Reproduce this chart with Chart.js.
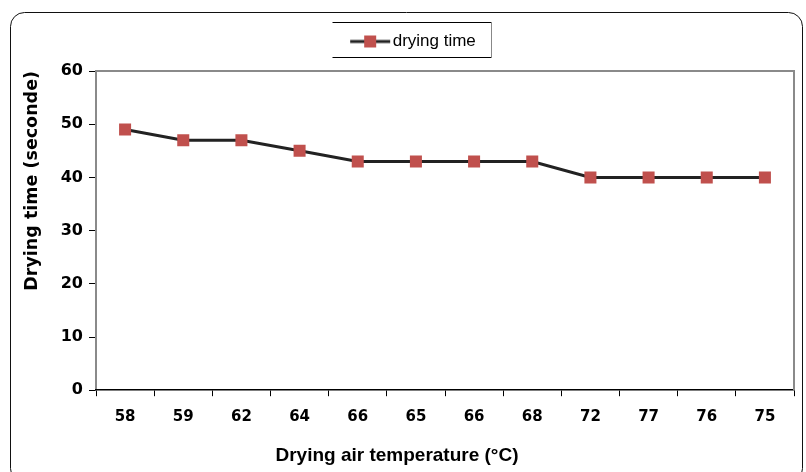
<!DOCTYPE html>
<html>
<head>
<meta charset="utf-8">
<script src="https://cdn.jsdelivr.net/npm/chart.js@4.4.1/dist/chart.umd.min.js"></script>
<style>
  html, body { margin: 0; padding: 0; background: #fff; }
  #wrap { width: 806px; height: 472px; position: relative; }
</style>
</head>
<body>
<div id="wrap"><canvas id="dryingChart"></canvas></div>
<script>
var temperatures = ['58', '59', '62', '64', '66', '65', '66', '68', '72', '77', '76', '75'];
var dryingTime = [49, 47, 47, 45, 43, 43, 43, 43, 40, 40, 40, 40];
var yTicks = [0, 10, 20, 30, 40, 50, 60];

var lineColor = '#222222';
var markerColor = '#C0504D';

// legend symbol: line with a square marker on it
var legendIcon = document.createElement('canvas');
legendIcon.width = 80;
legendIcon.height = 14;
(function () {
    var c = legendIcon.getContext('2d');
    c.strokeStyle = lineColor;
    c.lineWidth = 3;
    c.beginPath();
    c.moveTo(39, 7);
    c.lineTo(79, 7);
    c.stroke();
    c.fillStyle = markerColor;
    c.fillRect(53, 1, 12, 12);
})();

// extra room under the legend
var legendGap = {
    id: 'legendGap',
    afterInit: function (chart) {
        var fit = chart.legend.fit;
        chart.legend.fit = function () {
            fit.call(this);
            this.height += 11;
        };
    }
};

var framePlugin = {
    id: 'framePlugin',
    afterDraw: function (chart) {
        var ctx = chart.ctx;
        var a = chart.chartArea;
        ctx.save();
        // outer rounded frame
        ctx.strokeStyle = '#111';
        ctx.lineWidth = 1;
        ctx.beginPath();
        ctx.roundRect(10.5, 12.5, 792, 470, 14);
        ctx.stroke();
        // top and right plot border
        ctx.strokeStyle = '#8a8a8a';
        ctx.lineWidth = 2;
        ctx.beginPath();
        ctx.moveTo(a.left, a.top);
        ctx.lineTo(a.right, a.top);
        ctx.lineTo(a.right, a.bottom);
        ctx.stroke();
        // legend box (no left side, as in the original)
        var l = 332.5, r = 491.5, t = 22.5, b = 57.5;
        ctx.strokeStyle = '#000';
        ctx.lineWidth = 1;
        ctx.beginPath();
        ctx.moveTo(l, t);
        ctx.lineTo(r, t);
        ctx.stroke();
        ctx.beginPath();
        ctx.moveTo(l, b);
        ctx.lineTo(r, b);
        ctx.stroke();
        ctx.strokeStyle = '#888';
        ctx.beginPath();
        ctx.moveTo(r, t);
        ctx.lineTo(r, b);
        ctx.stroke();
        ctx.restore();
    }
};

var ctx = document.getElementById('dryingChart').getContext('2d');

var dryingChart = new Chart(ctx, {
    type: 'line',
    data: {
        labels: temperatures,
        datasets: [
            {
                label: 'drying time',
                data: dryingTime,
                borderColor: lineColor,
                backgroundColor: markerColor,
                borderWidth: 3,
                fill: false,
                tension: 0,
                pointStyle: 'rect',
                pointRadius: 8.5,
                pointHoverRadius: 8.5,
                pointBackgroundColor: markerColor,
                pointBorderColor: markerColor,
                pointBorderWidth: 0
            }
        ]
    },
    options: {
        responsive: true,
        maintainAspectRatio: false,
        animation: false,
        layout: {
            padding: {
                left: 0,
                right: 12,
                top: 11,
                bottom: 0
            }
        },
        plugins: {
            legend: {
                position: 'top',
                labels: {
                    font: {
                        family: '"Liberation Sans", Arial, sans-serif',
                        size: 17
                    },
                    color: '#000',
                    usePointStyle: true,
                    pointStyle: legendIcon,
                    pointStyleWidth: 66,
                    boxHeight: 12,
                    padding: 22
                }
            },
            title: {
                display: true,
                position: 'bottom',
                text: 'Drying air temperature (°C)',
                color: '#000',
                font: {
                    family: '"Liberation Sans", Arial, sans-serif',
                    size: 19,
                    weight: 'bold'
                },
                padding: {
                    top: 0,
                    bottom: 5
                }
            },
            tooltip: { enabled: false }
        },
        scales: {
            y: {
                min: 0,
                max: 60,
                afterFit: function (scale) { scale.width = 96; },
                afterBuildTicks: function (scale) {
                    scale.ticks = yTicks.map(function (v) { return { value: v }; });
                },
                ticks: {
                    padding: 6,
                    color: '#000',
                    font: {
                        family: '"DejaVu Sans", Verdana, sans-serif',
                        size: 16,
                        weight: 'bold'
                    }
                },
                grid: {
                    drawOnChartArea: false,
                    drawTicks: true,
                    tickLength: 7,
                    color: '#000'
                },
                border: {
                    color: '#8a8a8a',
                    width: 2
                },
                title: {
                    display: true,
                    text: 'Drying time (seconde)',
                    align: 'end',
                    color: '#000',
                    font: {
                        family: '"DejaVu Sans", Verdana, sans-serif',
                        size: 17.5,
                        weight: 'bold'
                    },
                    padding: { top: 22, bottom: 0 }
                }
            },
            x: {
                offset: true,
                afterFit: function (scale) { scale.height = 54; },
                ticks: {
                    padding: 12,
                    maxRotation: 0,
                    minRotation: 0,
                    color: '#000',
                    font: {
                        family: '"DejaVu Sans", Verdana, sans-serif',
                        size: 15,
                        weight: 'bold'
                    }
                },
                grid: {
                    offset: true,
                    drawOnChartArea: false,
                    drawTicks: true,
                    tickLength: 6,
                    color: '#000'
                },
                border: {
                    color: '#000',
                    width: 1.5
                }
            }
        }
    },
    plugins: [legendGap, framePlugin]
});
</script>
</body>
</html>
